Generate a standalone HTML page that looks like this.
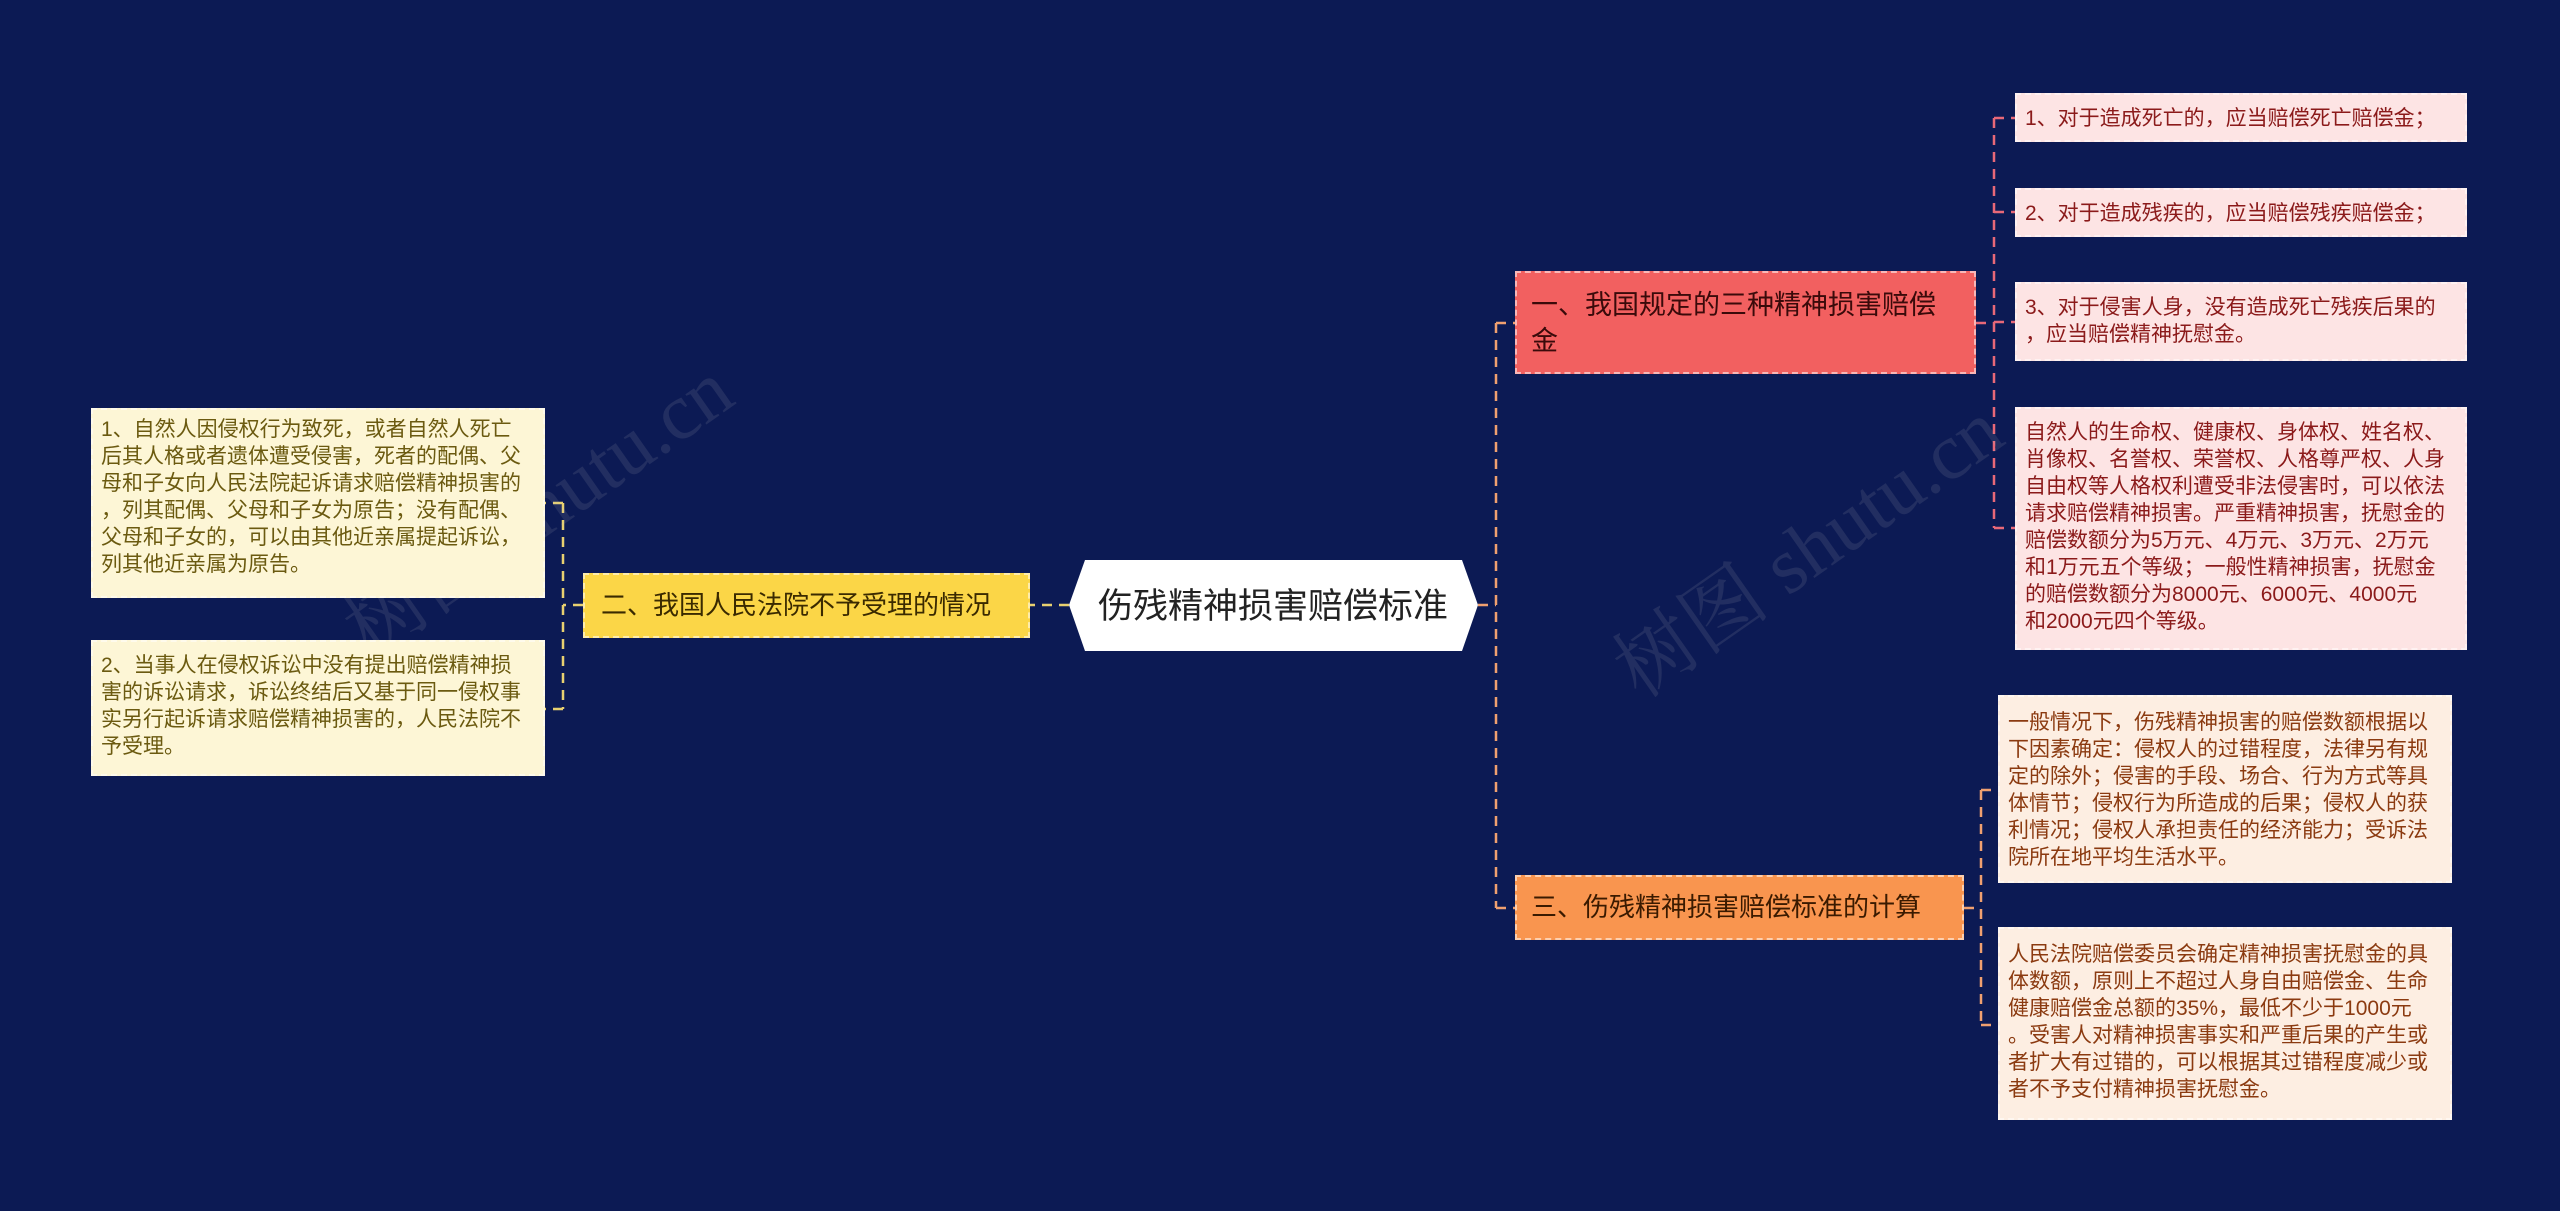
<!DOCTYPE html>
<html><head><meta charset="utf-8"><style>
body{margin:0;width:2560px;height:1211px;background:#0c1a54;overflow:hidden;position:relative;font-family:"Liberation Sans","Noto Sans CJK SC",sans-serif}
.b{position:absolute;box-sizing:border-box;border:2px dashed rgba(255,255,255,0.55)}
.lf{font-size:21px;line-height:27px;padding:6px 8px;white-space:nowrap}
.p{background:#fde4e4;color:#8b1a1a}
.o{background:#fdeee2;color:#8b3a10}
.y{background:#fdf6d6;color:#6b5a10}
svg{position:absolute;left:0;top:0}
</style></head><body>
<svg width="2560" height="1211">
<g fill="none" stroke-width="2.5" stroke-dasharray="10,7">
<path d="M1478 605 H1496 M1496 323 V908 M1496 323 H1515 M1496 908 H1515" stroke="#f0a070"/>
<path d="M1976 323 H1994 M1994 118 V528 M1994 118 H2015 M1994 212 H2015 M1994 322 H2015 M1994 528 H2015" stroke="#e86878"/>
<path d="M1964 908 H1981 M1981 790 V1025 M1981 790 H1998 M1981 1025 H1998" stroke="#f0a070"/>
<path d="M1069 605 H1030 M583 605 H563 M563 503 V709 M563 503 H545 M563 709 H545" stroke="#e8d070"/>
</g>
<polygon points="1085,560 1462,560 1478,605 1462,651 1085,651 1069,605" fill="#fff"/>
<text x="1273" y="618" text-anchor="middle" font-size="35" fill="#222" font-family="Liberation Sans, Noto Sans CJK SC, sans-serif">伤残精神损害赔偿标准</text>
<g fill="rgba(200,200,200,0.12)" font-size="80" font-family="Liberation Serif, Noto Serif CJK SC, serif">
<text transform="translate(370,660) rotate(-35)">树图 shutu.cn</text>
<text transform="translate(1640,700) rotate(-35)">树图 shutu.cn</text>
</g>
</svg>
<div class="b" style="left:583px;top:573px;width:447px;height:65px;background:#fbd647;color:#3a2a00;font-size:26px;line-height:61px;padding-left:16px">二、我国人民法院不予受理的情况</div>
<div class="b lf y" style="left:91px;top:408px;width:454px;height:190px"> 1、自然人因侵权行为致死，或者自然人死亡<br>后其人格或者遗体遭受侵害，死者的配偶、父<br>母和子女向人民法院起诉请求赔偿精神损害的<br>，列其配偶、父母和子女为原告；没有配偶、<br>父母和子女的，可以由其他近亲属提起诉讼，<br>列其他近亲属为原告。</div>
<div class="b lf y" style="left:91px;top:640px;width:454px;height:136px;padding-top:10px"> 2、当事人在侵权诉讼中没有提出赔偿精神损<br>害的诉讼请求，诉讼终结后又基于同一侵权事<br>实另行起诉请求赔偿精神损害的，人民法院不<br>予受理。</div>
<div class="b" style="left:1515px;top:271px;width:461px;height:103px;background:#f26060;color:#3a0a0a;font-size:27px;line-height:36px;padding:14px 14px">一、我国规定的三种精神损害赔偿<br>金</div>
<div class="b" style="left:1515px;top:875px;width:449px;height:65px;background:#f9954f;color:#3a1a00;font-size:26px;line-height:61px;padding-left:14px">三、伤残精神损害赔偿标准的计算</div>
<div class="b lf p" style="left:2015px;top:93px;width:452px;height:49px;line-height:35px"> 1、对于造成死亡的，应当赔偿死亡赔偿金；</div>
<div class="b lf p" style="left:2015px;top:188px;width:452px;height:49px;line-height:35px"> 2、对于造成残疾的，应当赔偿残疾赔偿金；</div>
<div class="b lf p" style="left:2015px;top:282px;width:452px;height:79px;padding-top:10px"> 3、对于侵害人身，没有造成死亡残疾后果的<br>，应当赔偿精神抚慰金。</div>
<div class="b lf p" style="left:2015px;top:407px;width:452px;height:243px;padding-top:10px">自然人的生命权、健康权、身体权、姓名权、<br>肖像权、名誉权、荣誉权、人格尊严权、人身<br>自由权等人格权利遭受非法侵害时，可以依法<br>请求赔偿精神损害。严重精神损害，抚慰金的<br>赔偿数额分为5万元、4万元、3万元、2万元<br>和1万元五个等级；一般性精神损害，抚慰金<br>的赔偿数额分为8000元、6000元、4000元<br>和2000元四个等级。</div>
<div class="b lf o" style="left:1998px;top:695px;width:454px;height:188px;padding-top:12px">一般情况下，伤残精神损害的赔偿数额根据以<br>下因素确定：侵权人的过错程度，法律另有规<br>定的除外；侵害的手段、场合、行为方式等具<br>体情节；侵权行为所造成的后果；侵权人的获<br>利情况；侵权人承担责任的经济能力；受诉法<br>院所在地平均生活水平。</div>
<div class="b lf o" style="left:1998px;top:927px;width:454px;height:193px;padding-top:12px">人民法院赔偿委员会确定精神损害抚慰金的具<br>体数额，原则上不超过人身自由赔偿金、生命<br>健康赔偿金总额的35%，最低不少于1000元<br>。受害人对精神损害事实和严重后果的产生或<br>者扩大有过错的，可以根据其过错程度减少或<br>者不予支付精神损害抚慰金。</div>
</body></html>
